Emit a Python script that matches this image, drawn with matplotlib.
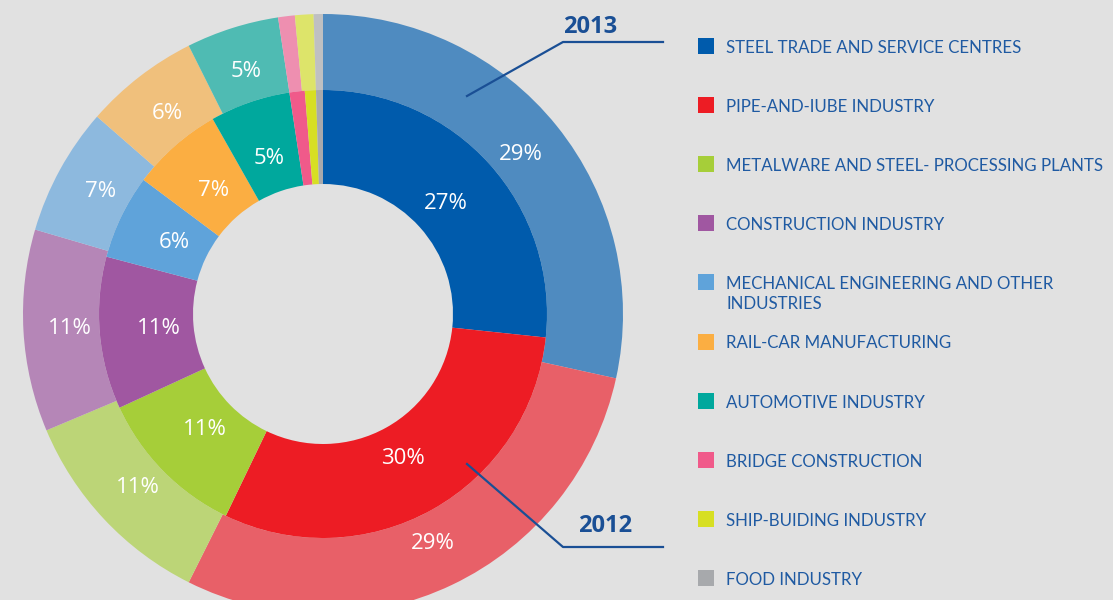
import numpy as np
import matplotlib as mpl
import matplotlib.pyplot as plt
from matplotlib.patches import Rectangle

mpl.use("Agg")

# sector names, as in the legend
categories = [
    "STEEL TRADE AND SERVICE CENTRES",
    "PIPE-AND-IUBE INDUSTRY",
    "METALWARE AND STEEL- PROCESSING PLANTS",
    "CONSTRUCTION INDUSTRY",
    "MECHANICAL ENGINEERING AND OTHER\nINDUSTRIES",
    "RAIL-CAR MANUFACTURING",
    "AUTOMOTIVE INDUSTRY",
    "BRIDGE CONSTRUCTION",
    "SHIP-BUIDING INDUSTRY",
    "FOOD INDUSTRY",
]

# shares, % (small ones carry no label)
share_2013 = [28.5, 29, 11.3, 10.9, 6.9, 6.2, 5, 0.9, 1.0, 0.5]
share_2012 = [26.7, 30.5, 11, 11, 6.1, 6.6, 5.8, 1.1, 0.8, 0.5]
labels_2013 = ["29%", "29%", "11%", "11%", "7%", "6%", "5%", "", "", ""]
labels_2012 = ["27%", "30%", "11%", "11%", "6%", "7%", "5%", "", "", ""]

colors_2012 = ["#005bac", "#ed1c24", "#a6ce39", "#a057a1", "#5fa3da",
               "#fbae42", "#00a89d", "#f05a8a", "#d7df23", "#a7a9ac"]
colors_2013 = ["#4f8bc0", "#e86068", "#bcd577", "#b586b7", "#8db9de",
               "#f0c07c", "#4fbbb3", "#ee8fb0", "#dde46a", "#bfc0c2"]

BG = "#e1e1e1"
TEXT_BLUE = "#1f5aa2"
LINE_BLUE = "#1a4f95"

fig = plt.figure(figsize=(11.13, 6.0), dpi=100, facecolor=BG)
ax = fig.add_axes([0, 0, 1, 1])
ax.set_facecolor(BG)

cx, cy = 323, 600 - 314
r_out, r_mid, r_in = 300, 224, 130


def ring(values, colors, radius, width, texts, text_r):
    wedges, _ = ax.pie(values, colors=colors, radius=radius, center=(cx, cy),
                       startangle=90, counterclock=False,
                       wedgeprops=dict(width=width, linewidth=0))
    for w, t in zip(wedges, texts):
        if not t:
            continue
        ang = np.deg2rad((w.theta1 + w.theta2) / 2)
        ax.text(cx + text_r * np.cos(ang), cy + text_r * np.sin(ang), t,
                color="white", fontsize=16, family="Open Sans",
                ha="center", va="center")


ring(share_2013, colors_2013, r_out, r_out - r_mid, labels_2013, 254)
ring(share_2012, colors_2012, r_mid, r_mid - r_in, labels_2012, 165)

ax.set_xlim(0, 1113)
ax.set_ylim(0, 600)
ax.set_aspect("equal")
ax.axis("off")

# year callouts
ax.plot([467, 563, 663], [600 - 96, 600 - 42, 600 - 42], color=LINE_BLUE, lw=1.6)
ax.text(590, 600 - 27, "2013", color=LINE_BLUE, fontsize=17, fontweight="bold",
        family="Open Sans", ha="center", va="center")
ax.plot([467, 563, 663], [600 - 464, 600 - 547, 600 - 547], color=LINE_BLUE, lw=1.6)
ax.text(605, 600 - 526, "2012", color=LINE_BLUE, fontsize=17, fontweight="bold",
        family="Open Sans", ha="center", va="center")

# legend, drawn by hand so the two-line entry keeps the row spacing
for i, (name, col) in enumerate(zip(categories, colors_2012)):
    y = 600 - (46 + 59.1 * i)
    ax.add_patch(Rectangle((698, y - 8), 16, 16, color=col, lw=0))
    if "\n" in name:
        ax.text(726, y + 6, name, color=TEXT_BLUE, fontsize=12.2, family="Lato",
                ha="left", va="top", linespacing=1.25)
    else:
        ax.text(726, y - 2, name, color=TEXT_BLUE, fontsize=12.2, family="Lato",
                ha="left", va="center")

fig.savefig("out.png", dpi=100, facecolor=BG)
